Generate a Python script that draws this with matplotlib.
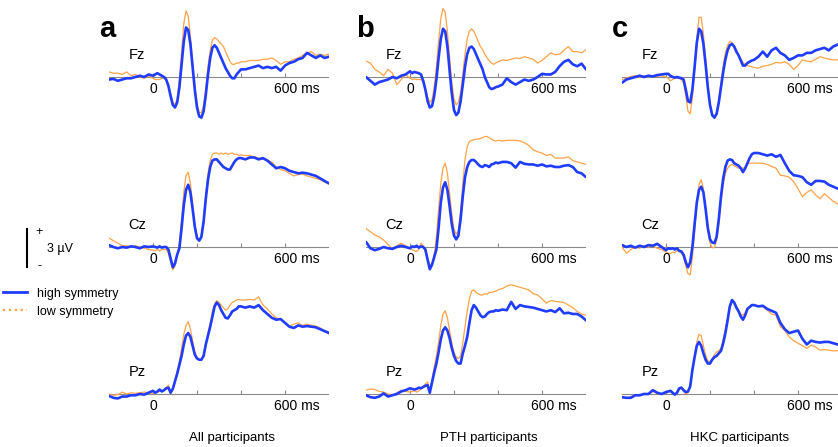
import matplotlib
matplotlib.use("Agg")
import matplotlib.pyplot as plt
from matplotlib.lines import Line2D

plt.rcParams["font.family"] = ["Liberation Sans", "DejaVu Sans"]

# =========================
# DATA (µV)
# =========================

# sample times: 20 ms in baseline / late window, 10 ms around the early components
TIME_MS = list(range(-200, 1, 20)) + list(range(10, 401, 10)) + list(range(420, 801, 20))

GROUPS = ["All participants", "PTH participants", "HKC participants"]
PANEL_LETTERS = ["a", "b", "c"]
ELECTRODES = ["Fz", "Cz", "Pz"]
TICKS_MS = [0, 200, 400, 600]
LEGEND_LABELS = ["high symmetry", "low symmetry"]

# --- a: all participants ---
A_FZ_HIGH = ([-0.2, -0.15, -0.3, -0.2, -0.1, -0.1, 0.0, 0.1, 0.0, 0.2, 0.1]
             + [0.2, 0.3, 0.2, 0.1, 0.0, -0.2, -0.7, -1.5, -2.2, -2.4,
                -2.0, -0.8, 1.0, 2.8, 3.9, 3.7, 2.6, 0.8, -1.0, -2.4,
                -3.1, -3.2, -2.7, -1.4, 0.2, 1.5, 2.3, 2.5, 2.3, 1.9,
                1.5, 1.1, 0.7, 0.4, 0.1, -0.1, -0.1, 0.2, 0.4, 0.6]
             + [0.6, 0.7, 0.8, 0.9, 0.7, 0.8, 0.7, 0.8, 0.5, 0.9,
                1.1, 1.2, 1.4, 1.5, 1.9, 1.7, 1.5, 1.7, 1.5, 1.6])
A_FZ_LOW = ([0.4, 0.3, 0.3, 0.2, 0.4, 0.1, 0.2, 0.0, -0.1, 0.1, -0.1]
            + [-0.2, -0.2, -0.2, -0.1, -0.1, -0.2, -0.6, -1.3, -2.0, -2.2,
               -1.7, -0.2, 2.0, 4.2, 5.2, 4.8, 3.2, 1.2, -0.7, -2.1,
               -2.8, -2.8, -2.2, -0.9, 0.8, 2.1, 2.9, 3.1, 3.0, 2.8,
               2.6, 2.4, 2.0, 1.6, 1.2, 1.0, 1.0, 1.1, 1.1, 1.2]
            + [1.2, 1.3, 1.3, 1.3, 1.4, 1.4, 1.5, 1.3, 1.0, 1.2,
               1.2, 1.4, 1.5, 1.7, 1.9, 2.0, 1.7, 1.8, 1.7, 1.8])
A_CZ_HIGH = ([0.15, 0.0, -0.1, 0.0, -0.05, 0.05, 0.0, -0.1, 0.05, 0.0, 0.05]
             + [0.0, -0.05, 0.05, -0.05, 0.0, 0.0, -0.2, -0.9, -1.6, -1.3,
                -0.6, -0.1, 1.5, 3.3, 4.5, 4.9, 4.3, 3.0, 1.6, 0.7,
                0.5, 0.8, 2.0, 3.8, 5.3, 6.3, 6.8, 6.9, 6.9, 6.7,
                6.5, 6.3, 6.2, 6.1, 6.1, 6.4, 6.7, 6.9, 7.0, 7.0]
             + [6.9, 7.05, 7.05, 6.9, 7.0, 6.8, 6.5, 6.2, 6.3, 6.2,
                6.0, 5.9, 5.8, 5.85, 5.8, 5.7, 5.6, 5.4, 5.2, 5.0])
A_CZ_LOW = ([0.7, 0.5, 0.3, 0.1, 0.1, 0.0, 0.1, 0.0, -0.1, -0.2, -0.25]
            + [-0.3, -0.2, -0.3, -0.2, -0.2, -0.2, -0.5, -1.2, -1.8, -1.5,
               -0.6, 0.3, 2.2, 4.3, 5.6, 5.9, 5.0, 3.4, 1.8, 0.8,
               0.55, 0.9, 2.2, 4.2, 5.8, 6.8, 7.3, 7.4, 7.4, 7.3,
               7.4, 7.3, 7.4, 7.3, 7.35, 7.4, 7.3, 7.3, 7.2, 7.25]
            + [7.2, 7.2, 7.1, 7.0, 6.9, 6.85, 6.7, 6.3, 6.1, 6.0,
               5.8, 5.6, 5.7, 5.75, 5.6, 5.5, 5.4, 5.3, 5.1, 5.0])
A_PZ_HIGH = ([-0.15, -0.3, -0.35, -0.2, -0.2, -0.1, -0.1, 0.0, -0.05, 0.1, 0.25]
             + [0.1, 0.2, 0.35, 0.2, 0.3, 0.45, 0.5, 0.1, 0.4, 1.0,
                1.6, 2.3, 3.0, 3.9, 4.6, 4.8, 4.5, 3.8, 3.1, 2.8,
                2.7, 2.7, 3.0, 3.9, 4.6, 5.3, 6.1, 6.9, 7.2, 7.0,
                6.6, 6.3, 6.0, 5.95, 6.2, 6.5, 6.6, 6.7, 6.9, 6.9]
             + [6.8, 6.9, 6.8, 7.0, 6.6, 6.3, 6.0, 5.85, 5.9, 5.6,
                5.3, 5.2, 5.4, 5.3, 5.35, 5.3, 5.25, 5.1, 4.95, 4.8])
A_PZ_LOW = ([0.0, -0.1, -0.05, 0.15, 0.0, 0.1, 0.05, 0.1, 0.15, 0.1, 0.05]
            + [0.1, 0.15, 0.2, 0.25, 0.3, 0.5, 0.7, 0.2, 0.45, 1.1,
               1.8, 2.6, 3.6, 4.7, 5.4, 5.7, 5.1, 4.2, 3.3, 2.9,
               2.7, 2.7, 3.1, 4.0, 4.8, 5.6, 6.5, 7.1, 7.35, 7.2,
               7.0, 6.8, 6.6, 6.7, 7.0, 7.2, 7.3, 7.4, 7.45, 7.4]
            + [7.4, 7.45, 7.4, 7.65, 7.0, 6.7, 6.3, 6.0, 5.9, 5.6,
               5.35, 5.5, 5.6, 5.4, 5.5, 5.4, 5.35, 5.2, 5.0, 4.9])

# --- b: PTH participants ---
B_FZ_HIGH = ([0.0, -0.3, -0.6, -0.4, -0.3, -0.2, 0.0, -0.1, 0.1, 0.2, 0.45]
             + [0.3, 0.4, 0.35, 0.3, 0.2, -0.3, -1.0, -1.9, -2.4, -2.3,
                -1.5, -0.2, 1.5, 3.0, 3.8, 3.6, 2.4, 0.5, -1.3, -2.6,
                -3.0, -2.8, -1.9, -0.6, 0.8, 1.8, 2.3, 2.4, 2.2, 1.8,
                1.4, 1.0, 0.6, 0.0, -0.4, -0.8, -0.95, -0.9, -0.8, -0.75]
             + [-0.6, -0.1, -0.4, -0.6, -0.4, -0.2, -0.3, -0.2, 0.0, 0.25,
                0.2, 0.2, 0.4, 0.85, 1.2, 1.35, 1.0, 0.85, 1.05, 0.6])
B_FZ_LOW = ([1.25, 1.1, 0.6, 0.4, 0.1, 0.6, 0.3, -0.6, -0.2, 0.2, -0.1]
            + [-0.2, -0.15, -0.2, -0.2, -0.2, -0.4, -0.9, -1.6, -2.0, -1.8,
               -0.8, 0.8, 2.8, 4.6, 5.4, 5.1, 3.6, 1.5, -0.4, -1.7,
               -2.2, -2.0, -1.2, 0.2, 1.8, 3.0, 3.6, 3.8, 3.6, 3.2,
               2.8, 2.4, 2.15, 1.8, 1.5, 1.3, 1.1, 1.0, 1.1, 1.2]
            + [1.35, 1.3, 1.4, 1.5, 1.45, 1.6, 1.5, 1.4, 1.1, 1.3,
               1.6, 1.9, 1.75, 1.8, 2.1, 2.4, 2.0, 2.0, 1.9, 2.15])
B_CZ_HIGH = ([0.4, -0.1, -0.25, -0.15, 0.0, -0.1, -0.15, 0.0, 0.1, 0.0, -0.1]
             + [0.05, 0.0, 0.1, -0.05, 0.05, 0.0, -0.2, -1.0, -1.75, -1.4,
                -0.8, -0.2, 1.5, 3.5, 4.7, 5.1, 4.5, 3.2, 1.8, 0.9,
                0.6, 0.9, 2.2, 4.0, 5.5, 6.3, 6.7, 6.85, 6.85, 6.7,
                6.5, 6.35, 6.3, 6.45, 6.4, 6.3, 6.5, 6.55, 6.65, 6.6]
             + [6.7, 6.7, 6.6, 6.25, 6.7, 6.55, 6.5, 6.5, 6.4, 6.5,
                6.35, 6.4, 6.3, 6.3, 6.4, 6.45, 6.3, 5.9, 5.8, 5.5])
B_CZ_LOW = ([1.45, 1.2, 0.95, 0.8, 0.55, 0.2, -0.15, 0.1, 0.3, 0.1, -0.1]
            + [-0.2, -0.3, -0.35, -0.2, 0.3, 0.1, -0.4, -1.0, -1.35, -1.4,
               -0.6, 0.8, 3.0, 5.0, 6.2, 6.6, 5.8, 4.2, 2.6, 1.4,
               1.0, 1.3, 2.8, 5.0, 6.9, 7.9, 8.3, 8.4, 8.45, 8.5,
               8.5, 8.55, 8.6, 8.7, 8.7, 8.6, 8.5, 8.4, 8.35, 8.4]
            + [8.35, 8.4, 8.4, 8.4, 8.35, 8.2, 8.0, 7.65, 7.5, 7.4,
               7.2, 7.3, 7.0, 7.0, 7.0, 7.1, 6.8, 6.7, 6.6, 6.5])
B_PZ_HIGH = ([-0.1, -0.25, -0.3, -0.2, 0.05, -0.2, -0.1, 0.0, 0.2, 0.3, 0.45]
             + [0.4, 0.35, 0.4, 0.5, 0.45, 0.55, 0.65, 0.7, 0.1, 0.9,
                1.7, 2.4, 3.3, 4.3, 5.0, 5.25, 5.0, 4.4, 3.6, 3.0,
                2.6, 2.4, 2.4, 3.2, 3.8, 4.5, 5.6, 6.6, 7.0, 6.8,
                6.5, 6.2, 6.05, 6.1, 6.3, 6.45, 6.5, 6.5, 6.6, 6.55]
             + [6.65, 6.6, 7.25, 6.7, 7.0, 6.9, 6.85, 6.8, 6.7, 6.6,
                6.5, 6.6, 6.45, 6.75, 6.35, 6.4, 6.3, 6.3, 6.1, 5.8])
B_PZ_LOW = ([0.3, 0.4, 0.35, 0.2, 0.15, 0.0, -0.1, 0.1, 0.3, 0.2, 0.15]
            + [0.2, 0.25, 0.15, 0.25, 0.4, 0.6, 0.8, 0.95, 0.2, 1.1,
               2.1, 3.0, 4.1, 5.4, 6.3, 6.55, 6.0, 5.0, 4.0, 3.3,
               2.9, 2.8, 3.0, 4.0, 5.3, 6.5, 7.5, 8.1, 8.2, 8.0,
               7.9, 7.8, 7.8, 7.9, 7.85, 8.0, 8.0, 8.05, 8.1, 8.2]
            + [8.3, 8.5, 8.6, 8.5, 8.4, 8.3, 8.2, 7.9, 7.8, 7.5,
               7.15, 7.35, 7.3, 7.25, 7.2, 7.0, 6.8, 6.5, 6.3, 6.2])

# --- c: HKC participants ---
C_FZ_HIGH = ([-0.45, -0.2, -0.1, 0.0, 0.1, 0.0, 0.1, 0.05, 0.15, 0.2, 0.25]
             + [0.25, 0.1, 0.0, -0.05, 0.0, -0.05, -0.1, -0.2, -1.0, -1.9,
                -2.0, -1.0, 0.8, 2.7, 3.8, 3.6, 2.6, 1.0, -0.8, -2.2,
                -3.0, -3.2, -2.9, -2.0, -0.8, 0.4, 1.4, 2.1, 2.5, 2.6,
                2.4, 2.0, 1.7, 1.3, 0.9, 0.9, 1.1, 1.2, 1.3, 1.35]
             + [1.6, 2.0, 1.6, 2.1, 2.3, 1.9, 1.7, 1.35, 1.5, 1.7,
                1.7, 1.9, 1.9, 2.1, 2.2, 2.3, 2.1, 2.4, 2.55, 2.5])
C_FZ_LOW = ([-0.2, -0.1, 0.05, 0.1, -0.05, 0.1, 0.0, 0.1, 0.05, 0.1, 0.0]
            + [-0.1, -0.3, -0.2, -0.1, -0.1, -0.1, -0.2, -0.5, -1.5, -2.7,
               -2.9, -1.6, 0.5, 3.0, 4.7, 4.7, 3.4, 1.4, -0.6, -2.1,
               -2.9, -3.15, -2.8, -1.8, -0.4, 0.9, 1.9, 2.5, 2.8, 2.7,
               2.3, 1.9, 1.75, 1.4, 1.15, 1.0, 0.9, 0.85, 0.8, 0.75]
            + [0.7, 0.85, 0.9, 1.0, 1.15, 1.1, 1.2, 1.0, 0.6, 0.9,
               1.35, 1.25, 1.2, 1.4, 1.6, 1.5, 1.4, 1.35, 1.35, 1.3])
C_CZ_HIGH = ([0.15, 0.0, 0.1, -0.05, 0.1, 0.0, 0.15, 0.1, 0.25, 0.0, -0.25]
             + [-0.1, -0.15, -0.1, -0.2, -0.1, -0.3, -0.35, -0.6, -1.2, -1.6,
                -1.2, 0.0, 1.8, 3.5, 4.5, 4.75, 4.3, 3.0, 1.5, 0.6,
                0.35, 0.3, 0.8, 2.2, 4.0, 5.4, 6.3, 6.8, 6.9, 6.85,
                6.6, 6.5, 6.4, 6.2, 5.9, 6.2, 6.6, 7.0, 7.3, 7.4]
             + [7.4, 7.3, 7.2, 7.3, 7.1, 7.25, 6.6, 6.0, 5.65, 5.6,
                5.5, 5.1, 4.9, 5.2, 5.2, 5.15, 4.9, 4.75, 4.6, 4.5])
C_CZ_LOW = ([0.0, -0.5, -0.2, 0.0, -0.1, 0.1, 0.0, 0.1, -0.1, -0.2, -0.4]
            + [-0.5, -0.5, -0.4, -0.45, -0.3, -0.35, -0.5, -0.8, -1.5, -2.1,
               -2.2, -0.8, 1.2, 3.4, 4.9, 5.3, 4.6, 3.0, 1.3, 0.3,
               -0.05, -0.05, 0.5, 1.8, 3.5, 4.9, 5.8, 6.2, 6.4, 6.5,
               6.4, 6.3, 6.2, 6.2, 6.2, 6.3, 6.5, 6.6, 6.6, 6.6]
            + [6.6, 6.6, 6.5, 6.35, 6.2, 5.65, 5.6, 5.5, 5.15, 4.6,
               3.95, 4.3, 4.5, 4.1, 3.8, 4.2, 3.9, 3.6, 3.4, 3.35])
C_PZ_HIGH = ([-0.25, -0.3, -0.3, -0.1, -0.1, 0.0, 0.0, 0.3, 0.1, 0.0, 0.15]
             + [0.2, 0.25, 0.1, -0.05, 0.1, 0.45, 0.5, 0.3, 0.15, 0.2,
                0.6, 1.9, 2.9, 3.8, 4.1, 3.8, 3.2, 2.7, 2.4, 2.4,
                2.7, 2.9, 3.0, 3.2, 3.4, 4.0, 4.8, 5.8, 6.9, 7.4,
                7.2, 6.8, 6.5, 6.1, 5.85, 6.2, 6.7, 6.85, 7.0, 7.0]
             + [6.9, 6.95, 6.7, 6.55, 6.4, 5.6, 5.1, 4.8, 4.9, 5.0,
                4.35, 3.9, 4.2, 4.1, 4.05, 4.1, 4.1, 4.0, 3.9, 3.85])
C_PZ_LOW = ([-0.3, -0.35, -0.2, -0.05, -0.15, 0.05, -0.05, 0.2, 0.05, -0.05, 0.1]
            + [0.15, 0.2, 0.05, 0.0, 0.05, 0.35, 0.45, 0.2, 0.0, 0.1,
               0.5, 1.8, 3.0, 4.1, 4.7, 4.6, 3.8, 3.1, 2.6, 2.55,
               2.8, 3.1, 3.3, 3.4, 3.6, 4.3, 5.1, 6.0, 6.8, 7.2,
               7.25, 6.9, 6.6, 6.3, 6.2, 6.4, 6.7, 6.85, 7.0, 7.0]
            + [6.9, 6.85, 6.6, 6.3, 6.2, 5.3, 5.0, 4.5, 4.2, 4.0,
               3.8, 3.6, 3.85, 3.7, 3.45, 3.5, 3.45, 3.4, 3.4, 3.4])

# rows = electrodes, columns = groups
HIGH = [[A_FZ_HIGH, B_FZ_HIGH, C_FZ_HIGH],
        [A_CZ_HIGH, B_CZ_HIGH, C_CZ_HIGH],
        [A_PZ_HIGH, B_PZ_HIGH, C_PZ_HIGH]]
LOW = [[A_FZ_LOW, B_FZ_LOW, C_FZ_LOW],
       [A_CZ_LOW, B_CZ_LOW, C_CZ_LOW],
       [A_PZ_LOW, B_PZ_LOW, C_PZ_LOW]]

for row in HIGH + LOW:
    for s in row:
        assert len(s) == len(TIME_MS)

# =========================
# LAYOUT / STYLE
# =========================

W, H = 838, 447
BLUE = "#1f3cff"
ORANGE = "#ffa347"
GREY = "#8a8a8a"

PX_PER_MS = 0.22
PX_PER_UV = 12.7
ZERO_X = [153, 410, 666]     # pixel x of t = 0 for each column
BASE_Y = [77, 247, 394]      # pixel y of 0 µV for each row
YMIN, YMAX = -4, 9


def fx(px):
    return px / W


def fy(py):
    return 1 - py / H


fig = plt.figure(figsize=(W / 100, H / 100), dpi=100)

axes = {}
for r, elec in enumerate(ELECTRODES):
    for c in range(3):
        left = ZERO_X[c] - 200 * PX_PER_MS
        width = 1000 * PX_PER_MS
        top = BASE_Y[r] - YMAX * PX_PER_UV
        height = (YMAX - YMIN) * PX_PER_UV
        ax = fig.add_axes([fx(left), fy(top + height), width / W, height / H])
        ax.set_xlim(-200, 800)
        ax.set_ylim(YMIN, YMAX)
        ax.axis("off")
        ax.patch.set_alpha(0)

        # time axis with small upward ticks
        ax.plot([-200, 800], [0, 0], color=GREY, lw=0.8, zorder=1)
        ax.vlines(TICKS_MS, 0, 0.32, color=GREY, lw=0.8, zorder=1)

        ax.plot(TIME_MS, LOW[r][c], color=ORANGE, lw=0.9, zorder=2)
        ax.plot(TIME_MS, HIGH[r][c], color=BLUE, lw=1.9, zorder=3,
                solid_joinstyle="round", solid_capstyle="round")

        ax.text(0, -0.95, "0", ha="center", va="center", fontsize=10)
        ax.text(653, -0.95, "600 ms", ha="center", va="center", fontsize=10)
        ax.text(-112, 1.7, elec, ha="left", va="center", fontsize=10.5)
        axes[(r, c)] = ax

# panel letters and group labels
for c, letter in enumerate(PANEL_LETTERS):
    fig.text(fx(ZERO_X[c] - 54), fy(37), letter, fontsize=21,
             fontweight="bold", ha="left", va="baseline")
for xc, label in zip([232, 489, 740], GROUPS):
    fig.text(fx(xc), fy(438), label, fontsize=9.5, ha="center", va="center")

# scale bar (3 µV) next to Cz of column a
ax_cz = axes[(1, 0)]
ax_cz.plot([-573, -573], [-1.58, 1.42], color="black", lw=1.5, clip_on=False)
fig.text(fx(35.5), fy(232), "+", fontsize=9, ha="left", va="center")
fig.text(fx(47), fy(249), "3 µV", fontsize=9, ha="left", va="center")
fig.text(fx(37), fy(266), "-", fontsize=9, ha="left", va="center")

# legend
handles = [Line2D([], [], color=BLUE, lw=2.0),
           Line2D([], [], color=ORANGE, lw=1.6, ls=":")]
fig.legend(handles, LEGEND_LABELS, loc="upper left",
           bbox_to_anchor=(fx(3), fy(287.5)), frameon=False, fontsize=9,
           handlelength=1.9, handletextpad=0.8, labelspacing=0.5,
           borderpad=0, borderaxespad=0)

fig.savefig("out.png", dpi=100)
plt.close(fig)
